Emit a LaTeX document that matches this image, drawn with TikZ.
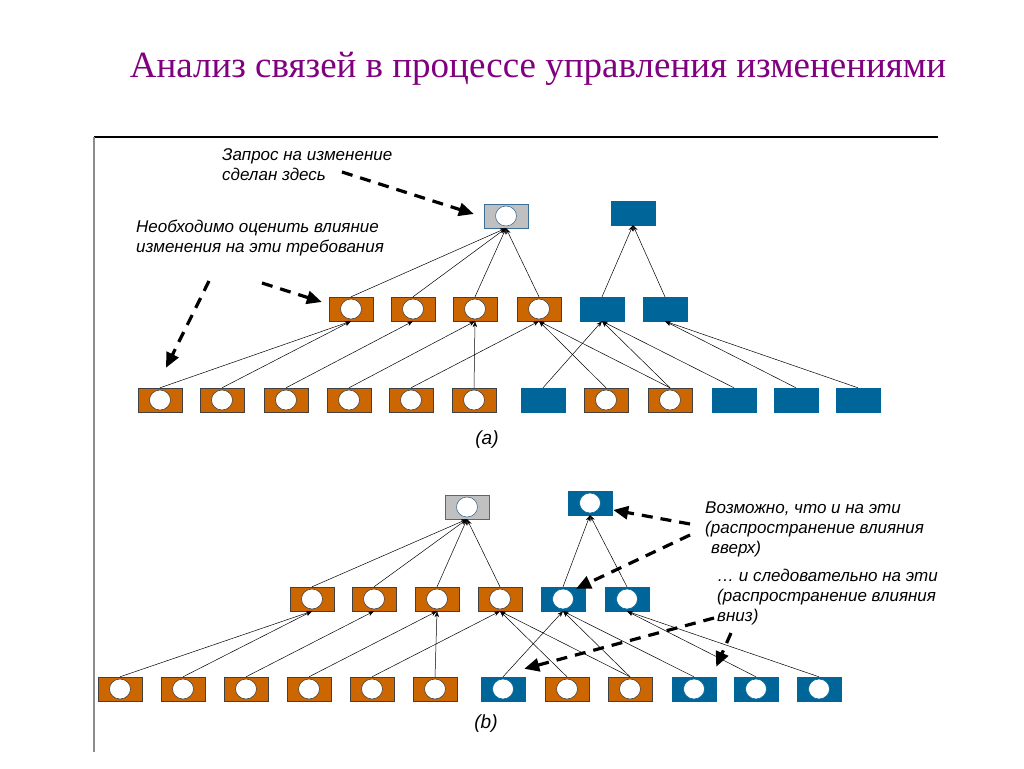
\documentclass[tikz,border=0pt]{standalone}
\usepackage{fontspec}
\setmainfont{Liberation Serif}
\setsansfont{Liberation Sans}
\usetikzlibrary{arrows.meta,positioning,calc}
\definecolor{titulo}{RGB}{128,0,128}
\definecolor{naranja}{RGB}{204,102,0}
\definecolor{azul}{RGB}{0,102,153}
\definecolor{gris}{RGB}{192,192,192}
\definecolor{bordegris}{RGB}{60,110,150}

\begin{document}
\begin{tikzpicture}[x=1pt,y=-1pt,
caja/.style={rectangle,minimum width=44pt,minimum height=24pt,inner sep=0pt},
hueco/.style={path picture={\draw[fill=white,line width=0.6pt] (path picture bounding box.center) ellipse [x radius=10.5pt,y radius=10pt];}},
nar/.style={caja,fill=naranja,draw=black!75,hueco},
az/.style={caja,fill=azul,draw=azul},
azh/.style={az,hueco},
gr/.style={caja,fill=gris,draw=bordegris,hueco},
nota/.style={font=\sffamily\itshape\fontsize{17}{20}\selectfont,align=left,anchor=west,inner sep=0pt},
etq/.style={font=\sffamily\itshape\fontsize{19}{19}\selectfont},
flecha/.style={-{Stealth[length=6pt,width=4.5pt]},line width=0.5pt},
rayas/.style={-{Triangle[length=15pt,width=13pt]},line width=3.2pt,dash pattern=on 11pt off 8pt}]
\path[use as bounding box,fill=white] (0,0) rectangle (1024,768);

\node[font=\fontsize{37}{40}\selectfont,text=titulo] (titulo) at (538,69) {Анализ связей в процессе управления изменениями};
\draw[line width=1.8pt] (938,137) -- (94,137);
\draw[line width=1.5pt,black!45] (94,137) -- (94,752);

% (a)
\path (506,216) node[gr] (ga) {} (633,213) node[az] (ba) {};
\path (351,309) node[nar] (ma1) {} (413,309) node[nar] (ma2) {} (475,309) node[nar] (ma3) {}
      (539,309) node[nar] (ma4) {} (602,309) node[az] (ma5) {} (665,309) node[az] (ma6) {};
\path (160,400) node[nar] (la1) {} (222,400) node[nar] (la2) {} (286,400) node[nar] (la3) {}
      (349,400) node[nar] (la4) {} (411,400) node[nar] (la5) {} (474,400) node[nar] (la6) {}
      (543,400) node[az] (la7) {} (606,400) node[nar] (la8) {} (670,400) node[nar] (la9) {}
      (734,400) node[az] (la10) {} (796,400) node[az] (la11) {} (858,400) node[az] (la12) {};

\path[flecha] (ma1.north) edge (ga.south) (ma2.north) edge (ga.south)
(ma3.north) edge (ga.south) (ma4.north) edge (ga.south)
(ma5.north) edge (ba.south) (ma6.north) edge (ba.south)
(la1.north) edge (ma1.south) (la2.north) edge (ma1.south)
(la3.north) edge (ma2.south)
(la4.north) edge (ma3.south) (la6.north) edge (ma3.south)
(la5.north) edge (ma4.south) (la8.north) edge (ma4.south) (la9.north) edge (ma4.south)
(la7.north) edge (ma5.south) (la9.north) edge (ma5.south) (la10.north) edge (ma5.south)
(la11.north) edge (ma6.south) (la12.north) edge (ma6.south);

\node[nota] (pedA) at (222,165) {Запрос на изменение\\сделан здесь};
\node[nota] (evalA) at (136,238) {Необходимо оценить влияние\\изменения на эти требования};
\node[etq] (etqA) at (487,440) {(a)};

\coordinate (pedA-c) at (342,172);
\coordinate (evalA-c1) at (262,283);
\coordinate (evalA-c2) at (209,281);
\draw[rayas] (pedA-c) -- ([shift={(-10pt,2pt)}]ga.west);
\draw[rayas] (evalA-c1) -- ([shift={(-7pt,7pt)}]ma1.west);
\draw[rayas] (evalA-c2) -- ([shift={(6pt,20pt)}]la1.north);

% (b)
\path (467,507) node[gr] (gb) {} (590,503) node[azh] (bb) {};
\path (312,599) node[nar] (mb1) {} (374,599) node[nar] (mb2) {} (437,599) node[nar] (mb3) {}
      (500,599) node[nar] (mb4) {} (563,599) node[azh] (mb5) {} (627,599) node[azh] (mb6) {};
\path (120,689) node[nar] (lb1) {} (183,689) node[nar] (lb2) {} (246,689) node[nar] (lb3) {}
      (309,689) node[nar] (lb4) {} (372,689) node[nar] (lb5) {} (435,689) node[nar] (lb6) {}
      (503,689) node[azh] (lb7) {} (567,689) node[nar] (lb8) {} (630,689) node[nar] (lb9) {}
      (694,689) node[azh] (lb10) {} (756,689) node[azh] (lb11) {} (819,689) node[azh] (lb12) {};

\path[flecha] (mb1.north) edge (gb.south) (mb2.north) edge (gb.south)
(mb3.north) edge (gb.south) (mb4.north) edge (gb.south)
(mb5.north) edge (bb.south) (mb6.north) edge (bb.south)
(lb1.north) edge (mb1.south) (lb2.north) edge (mb1.south)
(lb3.north) edge (mb2.south)
(lb4.north) edge (mb3.south) (lb6.north) edge (mb3.south)
(lb5.north) edge (mb4.south) (lb8.north) edge (mb4.south) (lb9.north) edge (mb4.south)
(lb7.north) edge (mb5.south) (lb9.north) edge (mb5.south) (lb10.north) edge (mb5.south)
(lb11.north) edge (mb6.south) (lb12.north) edge (mb6.south);

\node[nota] (arribaB) at (705,529) {Возможно, что и на эти\\(распространение влияния\\\hspace*{6pt}вверх)};
\node[nota] (abajoB) at (717,597) {… и следовательно на эти\\(распространение влияния\\вниз)};
\node[etq] (etqB) at (486,724) {(b)};

\coordinate (arribaB-c1) at (690,524);
\coordinate (arribaB-c2) at (690,535);
\coordinate (abajoB-c1) at (714,618);
\coordinate (abajoB-c2) at (731,633);
\draw[rayas] (arribaB-c1) -- ([shift={(1pt,-7pt)}]bb.east);
\draw[rayas] (arribaB-c2) -- ([shift={(13pt,-2pt)}]mb5.north);
\draw[rayas] (abajoB-c1) -- ([shift={(-1pt,8pt)}]lb7.north east);
\draw[rayas] (abajoB-c2) -- ([shift={(0pt,10pt)}]lb10.north east);
\end{tikzpicture}
\end{document}
